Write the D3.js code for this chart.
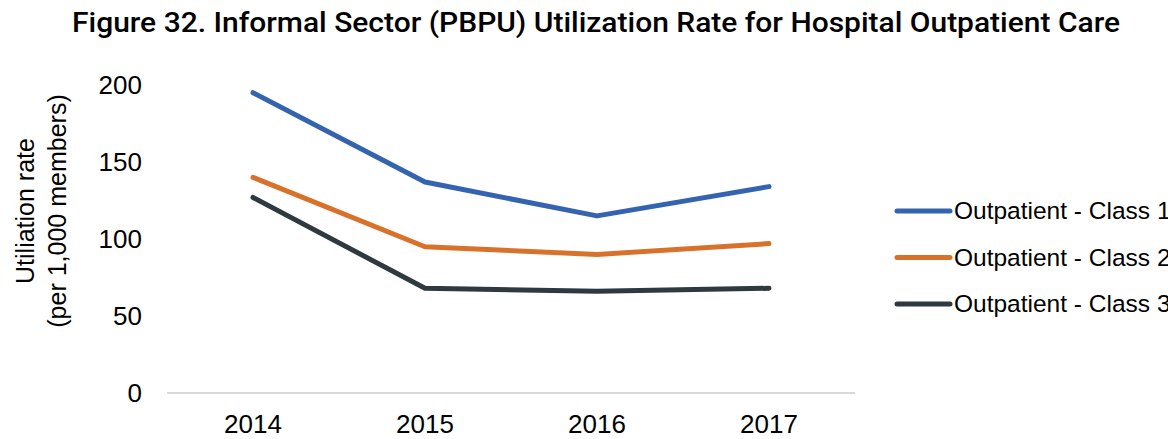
<!DOCTYPE html>
<html>
<head>
<meta charset="utf-8">
<script src="https://cdn.jsdelivr.net/npm/d3@7"></script>
<style>
    body { margin: 0; background: #fff; overflow: hidden; }
    svg text { fill: #000; }
</style>
</head>
<body>
<svg id="chart" width="1168" height="439"></svg>
<script>
// chart data
const years = ["2014", "2015", "2016", "2017"];
const class1 = [195, 137, 115, 134];
const class2 = [140, 95, 90, 97];
const class3 = [127, 68, 66, 68];
const seriesNames = ["Outpatient - Class 1", "Outpatient - Class 2", "Outpatient - Class 3"];
const yTicks = [0, 50, 100, 150, 200];

const colours = ["#3463b0", "#d8722b", "#2e3940"];
const font = "'Liberation Sans', Arial, sans-serif";

const svg = d3.select("#chart");

const margin = { top: 85, left: 167, right: 1168 - 855, bottom: 439 - 393 },
    width = 1168 - margin.left - margin.right,
    height = 439 - margin.top - margin.bottom;

const x = d3.scaleBand().domain(years).range([0, width]);
const y = d3.scaleLinear().domain([0, 200]).range([height, 0]);

const plot = svg.append("g")
    .attr("transform", `translate(${margin.left},${margin.top})`);

// title
svg.append("text")
    .attr("x", 72)
    .attr("y", 32)
    .attr("textLength", 1048)
    .attr("lengthAdjust", "spacingAndGlyphs")
    .style("font-family", "Roboto, 'Liberation Sans', sans-serif")
    .style("font-weight", 500)
    .style("font-size", "27px")
    .text("Figure 32. Informal Sector (PBPU) Utilization Rate for Hospital Outpatient Care");

// baseline
plot.append("line")
    .attr("x1", 0).attr("x2", width)
    .attr("y1", y(0)).attr("y2", y(0))
    .attr("stroke", "#d9d9d9")
    .attr("stroke-width", 2);

// y axis labels
const yAxis = plot.append("g")
    .call(d3.axisLeft(y).tickValues(yTicks).tickSize(0).tickPadding(25));
yAxis.select(".domain").remove();
yAxis.selectAll("text")
    .style("font-family", font)
    .style("font-size", "26px")
    .attr("fill", "#000");

// x axis labels
const xAxis = plot.append("g")
    .attr("transform", `translate(0,${height})`)
    .call(d3.axisBottom(x).tickSize(0).tickPadding(22));
xAxis.select(".domain").remove();
xAxis.selectAll("text")
    .style("font-family", font)
    .style("font-size", "26px")
    .attr("fill", "#000");

// y axis title
const yTitle = svg.append("text")
    .attr("transform", "translate(0,211) rotate(-90)")
    .attr("text-anchor", "middle")
    .style("font-family", font)
    .style("font-size", "25px");
yTitle.append("tspan").attr("x", 0).attr("y", 34).text("Utiliation rate");
yTitle.append("tspan").attr("x", 0).attr("y", 66).text("(per 1,000 members)");

// lines
const line = d3.line()
    .x((d, i) => x(years[i]) + x.bandwidth() / 2)
    .y(d => y(d));

[class1, class2, class3].forEach((values, i) => {
    plot.append("path")
        .datum(values)
        .attr("d", line)
        .attr("fill", "none")
        .attr("stroke", colours[i])
        .attr("stroke-width", 5)
        .attr("stroke-linecap", "round")
        .attr("stroke-linejoin", "round");
});

// legend
const legend = svg.append("g")
    .attr("transform", "translate(897,211)");

seriesNames.forEach((name, i) => {
    const row = legend.append("g")
        .attr("transform", `translate(0,${i * 46.5})`);
    row.append("line")
        .attr("x1", 0).attr("x2", 53)
        .attr("stroke", colours[i])
        .attr("stroke-width", 5)
        .attr("stroke-linecap", "round");
    row.append("text")
        .attr("x", 57)
        .attr("y", 8)
        .style("font-family", font)
        .style("font-size", "24.5px")
        .text(name);
});
</script>
</body>
</html>
